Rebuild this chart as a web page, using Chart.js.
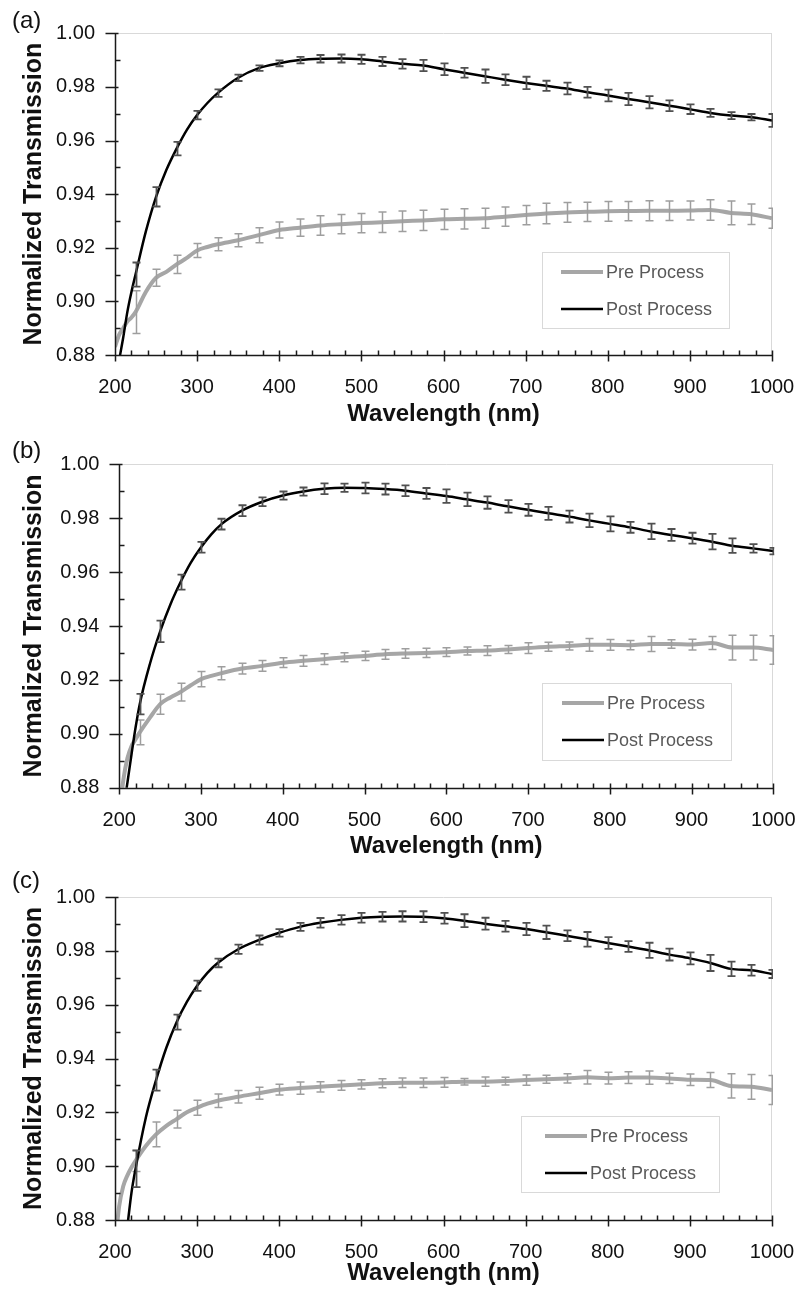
<!DOCTYPE html>
<html>
<head>
<meta charset="utf-8">
<script src="https://cdn.jsdelivr.net/npm/chart.js@4.4.1/dist/chart.umd.min.js"></script>
<style>
html,body{margin:0;padding:0;background:#fff;}
body{width:808px;height:1290px;position:relative;overflow:hidden;font-family:"Liberation Sans",Arial,sans-serif;}
canvas{position:absolute;left:0;}
.tag{position:absolute;left:12px;font-size:24px;line-height:24px;color:#111;}
</style>
</head>
<body>
<canvas id="chartA" width="808" height="450" style="top:0px"></canvas>
<canvas id="chartB" width="808" height="450" style="top:430px"></canvas>
<canvas id="chartC" width="808" height="450" style="top:860px"></canvas>
<div class="tag" style="top:8px">(a)</div>
<div class="tag" style="top:438px">(b)</div>
<div class="tag" style="top:868px">(c)</div>
<script>
// ---------- data ----------
const wavelengths = [200,205,210,215,220,225,237.5,250,262.5,275,287.5,300,312.5,325,350,375,400,425,450,475,500,525,550,575,600,625,650,675,700,725,750,775,800,825,850,875,900,925,950,975,1000];
const errorWavelengths = [225,250,275,300,325,350,375,400,425,450,475,500,525,550,575,600,625,650,675,700,725,750,775,800,825,850,875,900,925,950,975,1000];

const seriesLabels = ['Pre Process', 'Post Process'];
const xTitle = 'Wavelength (nm)';
const yTitle = 'Normalized Transmission';
const panelTags = ['(a)', '(b)', '(c)'];

// panel (a)
const preA  = [0.883,0.8875,0.890,0.8925,0.894,0.896,0.9035,0.9088,0.911,0.9138,0.9162,0.919,0.9203,0.9213,0.9228,0.9247,0.9266,0.9275,0.9283,0.9288,0.9292,0.9295,0.9299,0.9302,0.9306,0.9308,0.931,0.9316,0.9322,0.9328,0.9332,0.9334,0.9336,0.9337,0.9338,0.9338,0.9339,0.9341,0.933,0.9325,0.931];
const postA = [null,0.878,0.8865,0.896,0.9035,0.910,0.926,0.939,0.949,0.957,0.964,0.9695,0.974,0.9777,0.9834,0.987,0.9888,0.990,0.9905,0.9906,0.9903,0.9895,0.9886,0.988,0.9866,0.9853,0.984,0.9827,0.9815,0.9804,0.9794,0.978,0.9768,0.9755,0.9743,0.973,0.9717,0.9703,0.9693,0.9687,0.9675];
const preErrA  = [0.008,0.0032,0.0034,0.0026,0.0024,0.0024,0.0028,0.003,0.0032,0.0036,0.0036,0.0036,0.0038,0.0038,0.0038,0.0038,0.0038,0.0037,0.0036,0.0036,0.0038,0.0037,0.0036,0.0037,0.0036,0.0037,0.0036,0.0035,0.0038,0.0044,0.0038,0.0037];
const postErrA = [0.0045,0.0036,0.0025,0.0016,0.0014,0.0012,0.001,0.0011,0.0012,0.0014,0.0015,0.0017,0.0017,0.0018,0.0021,0.0022,0.0018,0.0025,0.002,0.0023,0.0019,0.0022,0.002,0.0022,0.0023,0.0023,0.002,0.0018,0.0015,0.0013,0.0012,0.0024];

// panel (b)
const preB  = [0.87,0.883,0.891,0.8955,0.898,0.9005,0.906,0.911,0.9135,0.9155,0.918,0.9203,0.9215,0.9225,0.9242,0.9252,0.9264,0.9271,0.9277,0.9284,0.9289,0.9295,0.9298,0.930,0.9303,0.9307,0.9309,0.9313,0.9318,0.9323,0.9326,0.933,0.933,0.9329,0.9333,0.9333,0.9331,0.9337,0.932,0.932,0.9311];
const postB = [null,0.872,0.882,0.8925,0.9025,0.911,0.926,0.938,0.948,0.9563,0.9635,0.9692,0.974,0.9778,0.9828,0.9861,0.9884,0.9899,0.9909,0.9913,0.9912,0.9908,0.9902,0.9892,0.9882,0.987,0.9858,0.9844,0.9831,0.9818,0.9806,0.9792,0.9779,0.9766,0.9751,0.9738,0.9726,0.9713,0.9698,0.9688,0.9678];
const preErrB  = [0.0046,0.0037,0.0033,0.0028,0.0024,0.002,0.002,0.0018,0.002,0.002,0.0017,0.0017,0.0018,0.0018,0.0017,0.0016,0.0015,0.0018,0.0015,0.002,0.0017,0.0015,0.0024,0.002,0.0017,0.0028,0.0016,0.002,0.0024,0.0046,0.0046,0.0053];
const postErrB = [0.0038,0.004,0.0028,0.002,0.002,0.002,0.0016,0.0015,0.0015,0.002,0.0015,0.002,0.002,0.002,0.002,0.0025,0.0025,0.0023,0.0023,0.0022,0.0024,0.0022,0.0025,0.0028,0.002,0.0029,0.0022,0.002,0.0029,0.0027,0.0016,0.0012];

// panel (c)
const preC  = [0.87,0.885,0.8925,0.8965,0.8995,0.902,0.9075,0.9118,0.915,0.9175,0.920,0.9217,0.9232,0.9243,0.9258,0.9271,0.9284,0.929,0.9295,0.930,0.9304,0.9308,0.931,0.931,0.9311,0.9314,0.9314,0.9316,0.932,0.9323,0.9326,0.933,0.9327,0.9329,0.9329,0.9326,0.9321,0.932,0.9298,0.9295,0.9283];
const postC = [null,null,0.866,0.8775,0.890,0.899,0.918,0.932,0.944,0.9535,0.961,0.967,0.9718,0.9755,0.9806,0.984,0.9867,0.9889,0.9904,0.9915,0.9923,0.9927,0.9928,0.9927,0.9921,0.9912,0.9901,0.9891,0.9881,0.9869,0.9856,0.9843,0.9829,0.9816,0.9802,0.9786,0.9772,0.9755,0.9733,0.9728,0.9714];
const preErrC  = [0.004,0.0046,0.0033,0.0028,0.0025,0.0023,0.0022,0.002,0.0023,0.0019,0.0018,0.0017,0.0017,0.0018,0.0018,0.0018,0.0012,0.0017,0.0014,0.0019,0.0015,0.0017,0.0025,0.0022,0.0022,0.0025,0.0019,0.0021,0.0028,0.0045,0.0046,0.0054];
const postErrC = [0.0068,0.0039,0.0028,0.0019,0.0016,0.0017,0.0017,0.0014,0.0015,0.0018,0.0018,0.0018,0.0018,0.0019,0.002,0.002,0.0024,0.0022,0.002,0.0023,0.0025,0.002,0.0027,0.0022,0.002,0.0028,0.0022,0.0022,0.003,0.0027,0.002,0.0015];

// ---------- styling ----------
const FONT = "'Liberation Sans', Arial, Helvetica, sans-serif";
Chart.defaults.font.family = FONT;
const PRE_COLOR = '#a6a6a6', POST_COLOR = '#000000';
const PRE_ERR = '#9e9e9e', POST_ERR = '#505050';
const CANVAS_H = 450;

// ---------- plugins ----------
const errorBars = {
  id: 'errorBars',
  afterDatasetDraw(chart, args) {
    const ds = chart.data.datasets[args.index];
    if (!ds.errors) return;
    const {ctx, chartArea: a} = chart;
    const xs = chart.scales.x, ys = chart.scales.y;
    ctx.save();
    ctx.beginPath();
    ctx.rect(a.left - 6, a.top - 2, a.right - a.left + 7, a.bottom - a.top + 2);
    ctx.clip();
    ctx.strokeStyle = ds.errorColor;
    ctx.lineWidth = ds.errorWidth;
    ctx.beginPath();
    errorWavelengths.forEach((w, i) => {
      const k = wavelengths.indexOf(w);
      const v = ds.values[k];
      if (v == null) return;
      const px = Math.round(xs.getPixelForValue(w)) + 0.5;
      const y1 = ys.getPixelForValue(v + ds.errors[i]);
      const y2 = ys.getPixelForValue(v - ds.errors[i]);
      ctx.moveTo(px, y1); ctx.lineTo(px, y2);
      ctx.moveTo(px - 4, y1); ctx.lineTo(px + 4, y1);
      ctx.moveTo(px - 4, y2); ctx.lineTo(px + 4, y2);
    });
    ctx.stroke();
    ctx.restore();
  }
};

const frame = {
  id: 'frame',
  beforeDatasetsDraw(chart) {
    const {ctx, chartArea: a} = chart;
    ctx.save();
    ctx.strokeStyle = '#d9d9d9';
    ctx.lineWidth = 1;
    ctx.beginPath();
    ctx.moveTo(a.left, Math.round(a.top) + 0.5); ctx.lineTo(a.right, Math.round(a.top) + 0.5);
    ctx.moveTo(Math.round(a.right) - 0.5, a.top); ctx.lineTo(Math.round(a.right) - 0.5, a.bottom);
    ctx.stroke();
    ctx.restore();
  },
  afterDatasetsDraw(chart) {
    const {ctx, chartArea: a} = chart;
    const xs = chart.scales.x, ys = chart.scales.y;
    const x0 = Math.round(xs.getPixelForValue(200)) + 0.5;
    const y0 = Math.round(ys.getPixelForValue(0.88)) + 0.5;
    ctx.save();
    ctx.strokeStyle = '#1a1a1a';
    ctx.lineWidth = 1.5;
    ctx.beginPath();
    ctx.moveTo(x0, a.top); ctx.lineTo(x0, y0);
    ctx.moveTo(x0, y0); ctx.lineTo(a.right, y0);
    // y ticks: major every 0.02 (crossing), minor every 0.01 (inside)
    for (let i = 0; i <= 12; i++) {
      const v = 0.88 + i * 0.01;
      const py = Math.round(ys.getPixelForValue(v)) + 0.5;
      if (i % 2 === 0) { ctx.moveTo(x0 - 10, py); ctx.lineTo(x0 + 3, py); }
      else { ctx.moveTo(x0, py); ctx.lineTo(x0 + 5, py); }
    }
    // x ticks: major every 100 (crossing), minor every 20 (inside)
    for (let w = 200; w <= 1000; w += 20) {
      const px = Math.round(xs.getPixelForValue(w)) + 0.5;
      if ((w - 200) % 100 === 0) { ctx.moveTo(px, y0 - 5); ctx.lineTo(px, y0 + 6); }
      else { ctx.moveTo(px, y0 - 5); ctx.lineTo(px, y0); }
    }
    ctx.stroke();
    ctx.restore();
  },
  afterDraw(chart, args, o) {
    // legend box inside plot area
    const ctx = chart.ctx;
    ctx.save();
    ctx.fillStyle = '#ffffff';
    ctx.fillRect(o.x, o.y, o.w, o.h);
    ctx.strokeStyle = '#d9d9d9';
    ctx.lineWidth = 1;
    ctx.strokeRect(o.x + 0.5, o.y + 0.5, o.w, o.h);
    ctx.font = '18px ' + FONT;
    ctx.textBaseline = 'middle';
    ctx.textAlign = 'left';
    chart.data.datasets.forEach((ds, i) => {
      const yy = o.y + 20 + i * 37;
      ctx.strokeStyle = ds.borderColor;
      ctx.lineWidth = ds.borderWidth;
      ctx.beginPath();
      ctx.moveTo(o.x + o.sx, yy); ctx.lineTo(o.x + o.sx + 42, yy);
      ctx.stroke();
      ctx.fillStyle = '#595959';
      ctx.fillText(ds.label, o.x + o.sx + 45, yy + 1);
    });
    ctx.restore();
  }
};

function makePanel(id, pre, post, preErr, postErr, g) {
  const toPts = vals => wavelengths.map((w, i) => ({x: w, y: vals[i]}));
  return new Chart(document.getElementById(id), {
    type: 'line',
    data: {
      datasets: [
        {label: seriesLabels[0], data: toPts(pre), values: pre, errors: preErr,
         borderColor: PRE_COLOR, borderWidth: 4, errorColor: PRE_ERR, errorWidth: 1.5, order: 2},
        {label: seriesLabels[1], data: toPts(post), values: post, errors: postErr,
         borderColor: POST_COLOR, borderWidth: 2.5, errorColor: POST_ERR, errorWidth: 1.8, order: 1}
      ]
    },
    options: {
      responsive: false,
      animation: false,
      devicePixelRatio: 1,
      events: [],
      layout: {padding: {top: g.top, right: 808 - g.right, left: 0, bottom: 0}},
      elements: {
        point: {radius: 0},
        line: {cubicInterpolationMode: 'monotone', fill: false, borderJoinStyle: 'round', borderCapStyle: 'butt'}
      },
      plugins: {
        legend: {display: false},
        tooltip: {enabled: false},
        frame: g.legend
      },
      scales: {
        x: {
          type: 'linear', min: 200, max: 1000,
          grid: {display: false}, border: {display: false},
          ticks: {stepSize: 100, color: '#111', padding: 12.5, maxRotation: 0, autoSkip: false,
                  font: {size: 20, family: FONT},
                  callback: v => String(v)},
          title: {display: true, text: xTitle, color: '#111',
                  font: {size: 24, weight: 'bold', family: FONT},
                  padding: {top: 0, bottom: g.xtp}},
          afterFit(s) { s.height = CANVAS_H - g.bottom; }
        },
        y: {
          type: 'linear', min: 0.88, max: 1.0,
          grid: {display: false}, border: {display: false},
          ticks: {stepSize: 0.02, color: '#111', padding: 12,
                  font: {size: 20, family: FONT},
                  callback: v => v.toFixed(2)},
          title: {display: true, text: yTitle, color: '#111',
                  font: {size: 25, weight: 'bold', family: FONT},
                  padding: {top: 19.5, bottom: 0}},
          afterFit(s) { s.width = g.left; }
        }
      }
    },
    plugins: [errorBars, frame]
  });
}

makePanel('chartA', preA, postA, preErrA, postErrA,
  {top: 33.3, bottom: 355, left: 115, right: 772, xtp: 21,
   legend: {x: 542, y: 252, w: 187, h: 76, sx: 19}});
makePanel('chartB', preB, postB, preErrB, postErrB,
  {top: 34.3, bottom: 357.7, left: 119.3, right: 776.3, xtp: 19,
   legend: {x: 542, y: 253, w: 189, h: 77, sx: 20}});
makePanel('chartC', preC, postC, preErrC, postErrC,
  {top: 37, bottom: 360, left: 115, right: 772, xtp: 22.5,
   legend: {x: 521, y: 256, w: 198, h: 76, sx: 24}});
</script>
</body>
</html>
